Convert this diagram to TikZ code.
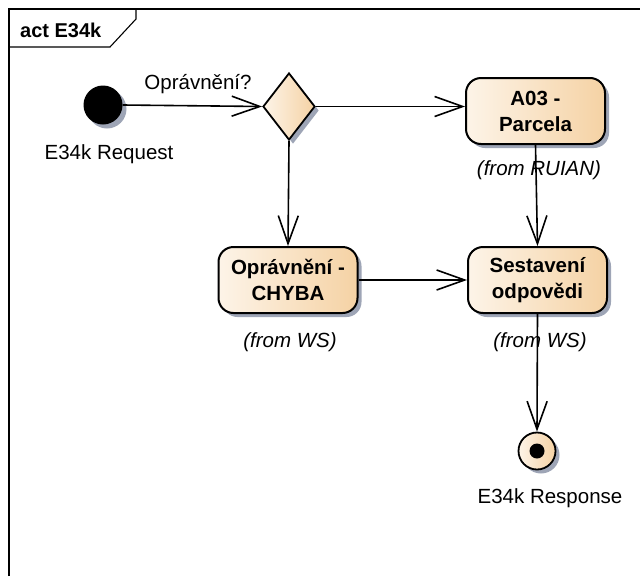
\documentclass[tikz,border=0pt]{standalone}
\usepackage{fontspec}
\setmainfont{Liberation Sans}
\usetikzlibrary{arrows.meta,shapes.geometric,shadows}
\definecolor{shadowc}{HTML}{9EA5B6}
\definecolor{lightc}{HTML}{FDF4E8}
\definecolor{darkc}{HTML}{F5D2A4}
\tikzset{
  txt/.style={inner sep=0pt, font=\fontsize{20.5}{26}\selectfont},
  itxt/.style={txt, font=\fontsize{20.5}{26}\selectfont\itshape},
  shad/.style={drop shadow={shadow xshift=4pt, shadow yshift=-4pt, fill=shadowc, opacity=1}},
  action/.style={draw, line width=2pt, rounded corners=15pt, left color=lightc, right color=darkc,
    minimum width=139pt, minimum height=66pt, inner sep=0pt, align=center,
    font=\fontsize{20.5}{26}\selectfont\bfseries, shad},
  decision/.style={draw, line width=1.8pt, diamond, left color=lightc, right color=darkc,
    minimum width=52pt, minimum height=67pt, inner sep=0pt, aspect=0.78, shad},
  flow/.style={line width=1.6pt, -{Straight Barb[length=28pt,width=20pt,line width=1.6pt]}},
}
\begin{document}
\begin{tikzpicture}[x=1pt,y=-1pt]
\useasboundingbox (0,0) rectangle (640,576);
% frame
\draw[line width=1.4pt] (9,576) -- (9,9) -- (640,9);
\draw[line width=1.1pt] (136,9) -- (136,19) -- (110,47) -- (9,47);
\node[txt, font=\fontsize{20}{24}\selectfont\bfseries, anchor=west] (title) at (20,30) {act E34k};
% initial
\node[circle, fill=black, minimum size=39pt, inner sep=0pt, shad] (init) at (103,105) {};
\node[txt] (initl) at (109,154) {E34k Request};
% decision
\node[decision] (dec) at (289,106.5) {};
\node[txt] (decl) at (198,84) {Oprávnění?};
% actions
\node[action] (a03) at (535.5,111) {A03 -\\Parcela};
\node[itxt] (a03f) at (539,170) {(from RUIAN)};
\node[action] (chyba) at (288,280) {Oprávnění -\\CHYBA};
\node[itxt] (chybaf) at (290,342) {(from WS)};
\node[action] (sest) at (537.5,280) {Sestavení\\odpovědi};
\node[itxt] (sestf) at (540,342) {(from WS)};
% final
\node[circle, draw, line width=1.8pt, left color=lightc, right color=darkc, minimum size=37pt, inner sep=0pt, shad] (fin) at (537,451) {};
\node[circle, fill=black, minimum size=15pt, inner sep=0pt] (findot) at (fin.center) {};
\node[txt] (finl) at (550,498) {E34k Response};
% flows
\draw[flow] (init.east) -- (dec.west);
\draw[flow] (dec.east) -- (dec.east -| a03.west);
\draw[flow] (dec.south) -- (chyba.north);
\draw[flow] (a03.south) -- (sest.north);
\draw[flow] (chyba.east) -- (sest.west);
\draw[flow] (sest.south) -- (fin.north);
\end{tikzpicture}
\end{document}
